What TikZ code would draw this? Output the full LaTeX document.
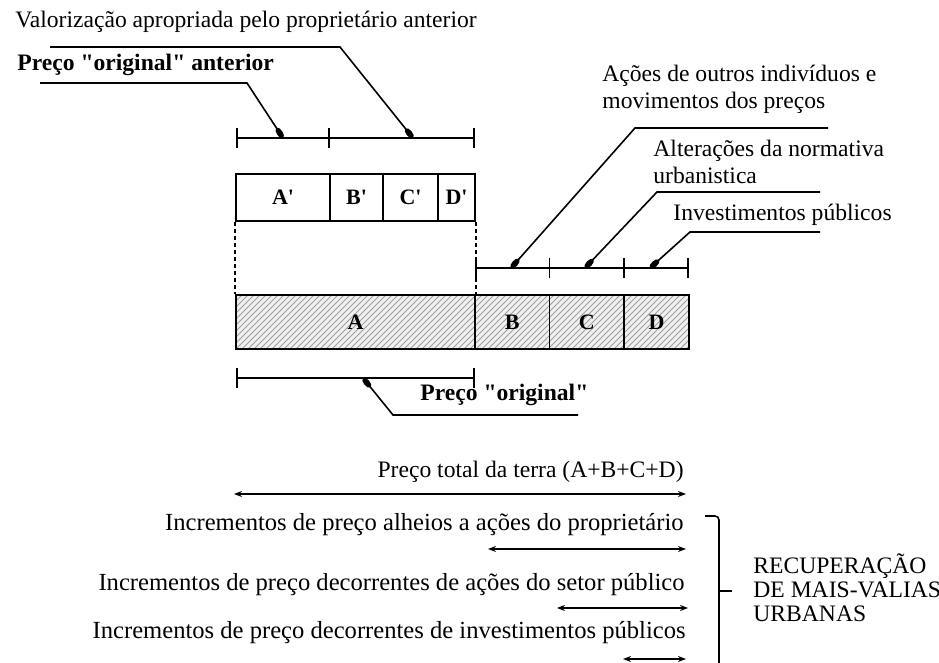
\documentclass[tikz,border=0pt]{standalone}
\usepackage{fontspec}
\setmainfont{Liberation Serif}[Ligatures=TeXOff]
\usetikzlibrary{arrows.meta,patterns}

\begin{document}
\begin{tikzpicture}[x=0.5pt,y=-0.5pt]
	\tikzstyle{txt}=[inner sep=0pt,font=\fontsize{11.8}{13.5}\selectfont]
	\tikzstyle{btxt}=[txt,font=\fontsize{11.8}{13.5}\selectfont\bfseries]
	\tikzstyle{itxt}=[txt,font=\fontsize{12.3}{13.5}\selectfont]
	\tikzstyle{cell}=[draw,thick,inner sep=0pt,minimum height=23.5pt,font=\fontsize{11}{13}\selectfont\bfseries]
	\tikzstyle{bar}=[cell,minimum height=27pt,preaction={fill=gray!12},pattern=north east lines,pattern color=gray!75]
	\tikzstyle{ruler}=[thick,arrows={Bar[width=10pt]-Bar[width=10pt]}]
	\tikzstyle{tick}=[thick]
	\tikzstyle{leader}=[thick,-{Ellipse[length=6pt,width=3pt]}]
	\tikzstyle{rng}=[thick,{Stealth[length=4pt,width=3pt]}-{Stealth[length=4pt,width=3pt]}]
	\tikzstyle{guide}=[thick,dash pattern=on 2pt off 1.5pt]
	\useasboundingbox (0,0) rectangle (939,663);

	\node [txt,anchor=west] (val) at (15,22) {Valorização apropriada pelo proprietário anterior};
	\node [btxt,anchor=west] (orig0) at (17,65) {Preço "original" anterior};
	\node [txt,anchor=west,align=left] (acoes) at (602,89) {Ações de outros indivíduos e\\movimentos dos preços};
	\node [txt,anchor=west,align=left] (norma) at (653,161.5) {Alterações da normativa\\urbanistica};
	\node [txt,anchor=west] (invest) at (673,215) {Investimentos públicos};

	\coordinate (t0) at (236,138);
	\coordinate (t1) at (329,138);
	\coordinate (t2) at (475,138);
	\draw[ruler] (t0) -- (t2);
	\draw[tick] (t1) ++(0,-10) -- ++(0,20);

	\coordinate (v1) at (50,47);
	\coordinate (v2) at (340,47);
	\coordinate (v3) at (413,138);
	\draw[leader] (v1) -- (v2) -- (v3);
	\coordinate (o1) at (40,83);
	\coordinate (o2) at (247,83);
	\coordinate (o3) at (283,138);
	\draw[leader] (o1) -- (o2) -- (o3);

	\node [cell,minimum width=47pt] (a1) at (283,197.5) {A'};
	\node [cell,minimum width=26.5pt] (b1) at (356.5,197.5) {B'};
	\node [cell,minimum width=27.5pt] (c1) at (410.5,197.5) {C'};
	\node [cell,minimum width=18.5pt] (d1) at (456.5,197.5) {D'};

	\node [bar,minimum width=119.5pt] (A) at (355.5,322) {A};
	\node [bar,minimum width=37.25pt] (B) at (512.25,322) {B};
	\node [bar,minimum width=37.25pt] (C) at (586.75,322) {C};
	\node [bar,minimum width=32.5pt] (D) at (656.5,322) {D};

	\draw[guide] (a1.south west) -- (A.north west);
	\draw[guide] (d1.south east) -- (A.north east);

	\coordinate (u0) at (475,268);
	\coordinate (u1) at (549.5,268);
	\coordinate (u2) at (624,268);
	\coordinate (u3) at (689,268);
	\draw[ruler] (u0) -- (u3);
	\draw[tick] (u1) ++(0,-10) -- ++(0,20);
	\draw[tick] (u2) ++(0,-10) -- ++(0,20);

	\coordinate (w1) at (828,128);
	\coordinate (w2) at (635,128);
	\coordinate (w3) at (511,268);
	\draw[leader] (w1) -- (w2) -- (w3);
	\coordinate (x1) at (820,192);
	\coordinate (x2) at (657,192);
	\coordinate (x3) at (585,268);
	\draw[leader] (x1) -- (x2) -- (x3);
	\coordinate (y1) at (820,232);
	\coordinate (y2) at (690,232);
	\coordinate (y3) at (650,268);
	\draw[leader] (y1) -- (y2) -- (y3);

	\coordinate (q0) at (236,378);
	\coordinate (q1) at (475,378);
	\draw[ruler] (q0) -- (q1);
	\node [btxt,anchor=west] (orig) at (420,395) {Preço "original"};
	\coordinate (z1) at (578,415);
	\coordinate (z2) at (393,415);
	\coordinate (z3) at (363,378);
	\draw[leader] (z1) -- (z2) -- (z3);

	\node [txt,anchor=east] (total) at (684,472) {Preço total da terra (A+B+C+D)};
	\coordinate (r1a) at (234,494);
	\coordinate (r1b) at (686,494);
	\draw[rng] (r1a) -- (r1b);
	\node [itxt,anchor=east] (inc1) at (684,525) {Incrementos de preço alheios a ações do proprietário};
	\coordinate (r2a) at (488,549);
	\coordinate (r2b) at (686,549);
	\draw[rng] (r2a) -- (r2b);
	\node [itxt,anchor=east] (inc2) at (685,585) {Incrementos de preço decorrentes de ações do setor público};
	\coordinate (r3a) at (557,608);
	\coordinate (r3b) at (688,608);
	\draw[rng] (r3a) -- (r3b);
	\node [itxt,anchor=east] (inc3) at (686,633) {Incrementos de preço decorrentes de investimentos públicos};
	\coordinate (r4a) at (623,659);
	\coordinate (r4b) at (686,659);
	\draw[rng] (r4a) -- (r4b);

	\coordinate (k1) at (705,516);
	\coordinate (k2) at (719,516);
	\coordinate (k3) at (719,663);
	\draw[thick,rounded corners=2pt] (k1) -- (k2) -- (k3);
	\coordinate (m1) at (719,591);
	\coordinate (m2) at (732,591);
	\draw[thick] (m1) -- (m2);
	\node [txt,anchor=west,align=left,font=\fontsize{11.8}{12}\selectfont] (recup) at (753,588) {RECUPERAÇÃO\\DE MAIS-VALIAS\\URBANAS};
\end{tikzpicture}
\end{document}
